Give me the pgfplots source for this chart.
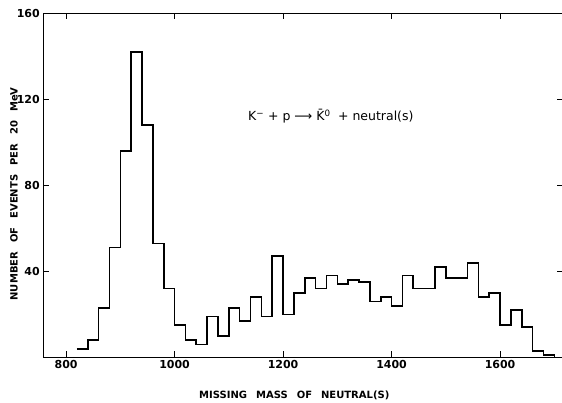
\documentclass[border=0pt]{standalone}
\usepackage{fontspec}
\setmainfont{DejaVu Sans}
\usepackage{pgfplots}
\pgfplotsset{compat=1.18}
\newcommand{\gap}{\hspace{0.9em}}
\begin{document}
\begin{tikzpicture}
\begin{axis}[
  name=ax,
  scale only axis, width=519.7pt, height=344pt,
  xmin=758, xmax=1716, ymin=0, ymax=160,
  xtick={800,1000,1200,1400,1600}, ytick={40,80,120,160},
  xticklabels={800,1000,1200,1400,1600},
  yticklabels={40,80,120,160},
  tick align=inside, major tick length=6pt,
  axis line style={line width=1.1pt},
  every tick/.style={black, line width=0.9pt},
  tick label style={font=\bfseries\fontsize{11}{12}\selectfont},
  xlabel={MISSING\gap MASS\gap OF\gap NEUTRAL(S)},
  ylabel={NUMBER\gap OF\gap EVENTS\gap PER\gap 20\gap MeV},
  every axis x label/.style={at={(rel axis cs:0.483,0)}, anchor=center, yshift=-37.7pt, font=\bfseries\fontsize{10}{12}\selectfont},
  every axis y label/.style={at={(rel axis cs:0,0.475)}, xshift=-29.3pt, rotate=90, anchor=center, font=\bfseries\fontsize{10}{12}\selectfont},
  clip=false,
]
\addplot[const plot, black, line width=1.6pt] coordinates {
(820,4) (840,8) (860,23) (880,51) (900,96) (920,142) (940,108) (960,53) (980,32)
(1000,15) (1020,8) (1040,6) (1060,19) (1080,10) (1100,23) (1120,17) (1140,28) (1160,19) (1180,47)
(1200,20) (1220,30) (1240,37) (1260,32) (1280,38) (1300,34) (1320,36) (1340,35) (1360,26) (1380,28)
(1400,24) (1420,38) (1440,32) (1460,32) (1480,42) (1500,37) (1520,37) (1540,44) (1560,28) (1580,30)
(1600,15) (1620,22) (1640,14) (1660,3) (1680,1) (1700,0)
};
\node[font=\fontsize{12.5}{14}\selectfont] at (axis cs:1288,112) {K\textsuperscript{−} + p ⟶ \={K}\textsuperscript{0}\; + neutral(s)};
\end{axis}
\pgfresetboundingbox
\path[use as bounding box] ([shift={(-43.3pt,-44.7pt)}]ax.south west) rectangle ([shift={(-1pt,13.3pt)}]ax.north east);
\end{tikzpicture}
\end{document}
